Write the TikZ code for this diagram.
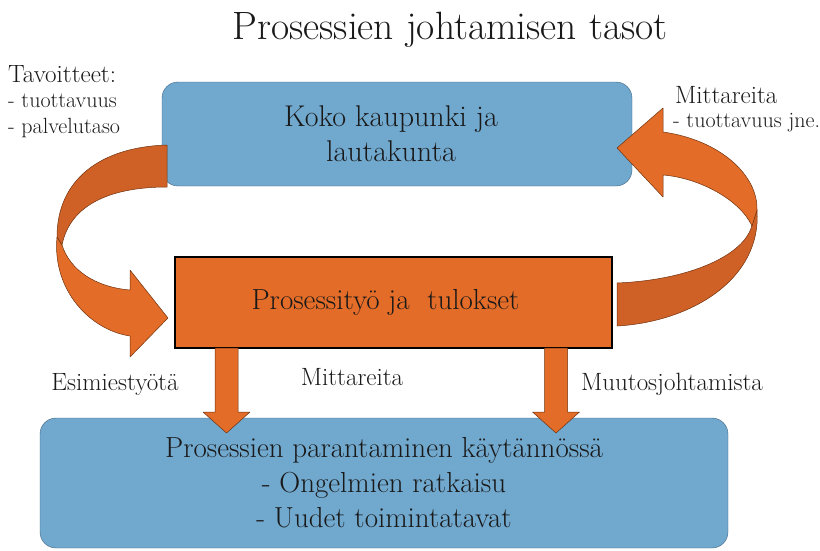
\documentclass[tikz,border=0pt]{standalone}
\usepackage{fontspec}
\setmainfont{Latin Modern Roman}
\usetikzlibrary{positioning}
\definecolor{boxblue}{RGB}{113,168,205}
\definecolor{boxblueline}{RGB}{62,100,130}
\definecolor{flow}{RGB}{226,108,40}
\definecolor{flowdark}{RGB}{208,97,38}
\definecolor{flowline}{RGB}{110,50,15}
\definecolor{ink}{RGB}{25,25,25}
\tikzset{
         level/.style={draw=boxblueline, fill=boxblue, rounded corners=16pt,
                       align=center, inner sep=0pt, text=ink},
         work/.style={draw=black, line width=2.5pt, fill=flow, inner sep=0pt, text=ink},
         note/.style={font=\fontsize{25}{26}\selectfont, inner sep=0pt, text=ink},
         subnote/.style={font=\fontsize{22}{26}\selectfont, inner sep=0pt, text=ink},
         band/.style={fill=flow, draw=flowline, line width=0.5pt, line join=round},
         bandshade/.style={fill=flowdark, draw=flowline, line width=0.5pt, line join=round},
         }

\begin{document}
\begin{tikzpicture}[x=1pt, y=-1pt]
    \useasboundingbox (0,0) rectangle (820,550);
    \node[font=\fontsize{39.5}{42}\selectfont, text=ink] (title) at (450,30) {Prosessien johtamisen tasot};

    % levels
    \node[level, minimum width=470pt, minimum height=104pt, font=\fontsize{30}{35}\selectfont] (city) at (397,134) {Koko kaupunki ja\hspace*{12pt}\\lautakunta\hspace*{12pt}};
    \node[work, minimum width=437pt, minimum height=91pt, font=\fontsize{29}{35}\selectfont] (proc) at (393.5,302.5) {Prosessityö ja\ \ tulokset\hspace*{16pt}};
    \node[level, minimum width=688pt, minimum height=130pt, font=\fontsize{29}{35}\selectfont] (practice) at (384,483) {Prosessien parantaminen käytännössä\\- Ongelmien ratkaisu\\- Uudet toimintatavat};

    % side texts
    \node[note, anchor=base west] (goals) at (8,82) {Tavoitteet:};
    \node[subnote, anchor=base west] (goal1) at (8,107) {- tuottavuus};
    \node[subnote, anchor=base west] (goal2) at (8,133) {- palvelutaso};
    \node[note, anchor=base west] (meters) at (675,103) {Mittareita};
    \node[subnote, anchor=base west] (meter1) at (673,127) {- tuottavuus jne.};
    \node[note, anchor=base] (lead) at (115,390) {Esimiestyötä};
    \node[note, anchor=base] (midmeters) at (352,385) {Mittareita};
    \node[note, anchor=base] (change) at (672,390) {Muutosjohtamista};

    % left loop: city -> proc
    \draw[band] (57,237) .. controls (52,290) and (90,330) .. (130,336) -- (130,357) -- (168,318)
                -- (130,270) -- (130,290) .. controls (95,287) and (70,270) .. (62,245) -- cycle;
    \draw[bandshade] (167,145) .. controls (100,147) and (57,180) .. (57,237) -- (62,245)
                .. controls (70,205) and (110,187) .. (167,187) -- cycle;

    % right loop: proc -> city
    \draw[bandshade] (757,210) .. controls (762,280) and (690,322) .. (617,326) -- (617,283)
                .. controls (690,280) and (745,255) .. (752,225) -- cycle;
    \draw[band] (663,132) .. controls (720,140) and (758,175) .. (757,210) -- (752,226)
                .. controls (740,200) and (700,178) .. (663,175) -- (663,197) -- (617,148) -- (663,108) -- cycle;

    % proc -> practice
    \foreach \cx in {226.5, 556} {
        \draw[band] (\cx-11.5,348) -- (\cx+11.5,348) -- (\cx+11.5,412) -- (\cx+23.5,412)
                    -- (\cx,433) -- (\cx-23.5,412) -- (\cx-11.5,412) -- cycle;
    }
\end{tikzpicture}
\end{document}
